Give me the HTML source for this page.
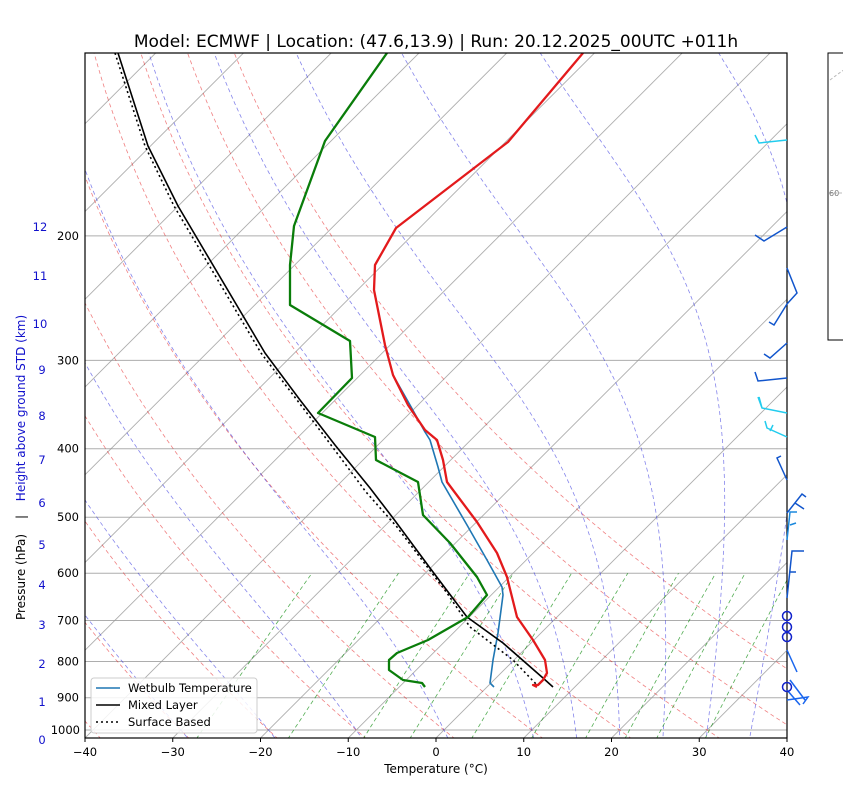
<!DOCTYPE html>
<html><head><meta charset="utf-8"><style>
body{margin:0;background:#fff;}
svg{display:block;font-family:"DejaVu Sans","Liberation Sans",sans-serif;}
</style></head><body>
<svg id="s" width="843" height="809" viewBox="0 0 843 809" xmlns="http://www.w3.org/2000/svg">
<defs><clipPath id="c"><rect x="85" y="53" width="702" height="685"/></clipPath></defs>
<rect width="843" height="809" fill="#fff"/>
<g id="bg" clip-path="url(#c)"></g>
<g clip-path="url(#c)" fill="none" stroke-linejoin="round">
<polyline stroke="#1f77b4" stroke-width="1.6" points="385,345 393,375 410,405 425,432 430,440 438,467 442,482 467,525 487,560 502,587 503,595 498,633 493,660 490,683 494,687"/>
<polyline stroke="#000" stroke-width="1.6" stroke-dasharray="2,3" points="115,53 145,146 174,206 261,353 297,400 331,445 366,492 397,527 447,593 470,627 513,660 537,685"/>
<polyline stroke="#000" stroke-width="1.6" points="118,53 148,146 178,206 265,353 300,400 335,445 370,488 393,518 430,568 467,617 503,643 543,678 553,687"/>
<polyline stroke="#e31a1c" stroke-width="2.3" points="583,53 508,142 396,228 375,265 374,290 378,310 385,345 393,375 408,405 425,430 437,440 443,460 447,482 477,522 497,553 507,577 517,617 533,640 545,660 547,673 543,680 538,685 533,685 537,687"/>
<polyline stroke="#0a7d0a" stroke-width="2.3" points="387,53 325,141 294,226 290,265 290,305 350,341 352,378 318,413 375,437 376,460 418,482 423,515 450,543 477,577 487,595 468,617 428,640 397,653 389,660 389,670 403,680 422,683 425,687"/>
</g>
<rect x="85" y="53" width="702" height="685" fill="none" stroke="#000" stroke-width="1.2"/>
<!-- wind barbs -->
<g fill="none" stroke-width="1.5">
<path d="M787,140 L759,143 L755,135" stroke="#22ccee"/>
<path d="M787,227 L764,241 L755,235" stroke="#1155cc"/>
<path d="M787,268 L797,293 L787,304 M787,304 L774,325 L769,322" stroke="#1155cc"/>
<path d="M787,343 L770,358 L764,354" stroke="#1155cc"/>
<path d="M787,378 L758,381 L755,372" stroke="#1155cc"/>
<path d="M787,413 L762,408 L758,397 M762,408 L759,397" stroke="#22ccee"/>
<path d="M787,437 L767,428 L765,421 M770,431 L773,425" stroke="#22ccee"/>
<path d="M787,480 L777,458 L781,456" stroke="#1155cc"/>
<path d="M787,513 L802,494 L806,497 M795,503 L804,509" stroke="#1155cc"/>
<path d="M787,540 L790,512 L797,512 M790,525 L796,523" stroke="#1a88dd"/>
<path d="M787,598 L792,551 L804,551 M790,572 L796,572" stroke="#1155cc"/>
<path d="M787,650 L797,672 M787,700 L808,697 L803,704 M787,690 L800,705 M790,680 L805,700" stroke="#1a66ee"/>
</g>
<g fill="none" stroke="#1122cc" stroke-width="1.5">
<circle cx="787" cy="616" r="4.5"/><circle cx="787" cy="627" r="4.5"/><circle cx="787" cy="637" r="4.5"/><circle cx="787" cy="687" r="4.5"/>
</g>
<!-- hodograph inset -->
<rect x="828" y="53" width="20" height="287" fill="#fff" stroke="#000" stroke-width="1"/>
<path d="M830,80 Q843,70 850,66 M829,193 L843,193" stroke="#bbb" stroke-dasharray="3,2" fill="none"/>
<text x="829" y="196" font-size="8" fill="#777">60</text>
<!-- title -->
<text x="436" y="47" font-size="17" text-anchor="middle">Model: ECMWF | Location: (47.6,13.9) | Run: 20.12.2025_00UTC +011h</text>
<g font-size="11.5" text-anchor="middle" id="xt"></g>
<text x="436" y="773" font-size="12" text-anchor="middle">Temperature (°C)</text>
<g font-size="11.5" text-anchor="end" id="yt"></g>
<g font-size="11.5" fill="#1111cc" text-anchor="middle">
<text x="42" y="744">0</text><text x="42" y="706">1</text><text x="42" y="668">2</text><text x="42" y="629">3</text><text x="42" y="589">4</text><text x="42" y="549">5</text><text x="42" y="507">6</text><text x="42" y="464">7</text><text x="42" y="420">8</text><text x="42" y="374">9</text><text x="40" y="328">10</text><text x="40" y="280">11</text><text x="40" y="231">12</text>
</g>
<text transform="translate(25,577) rotate(-90)" font-size="12" text-anchor="middle">Pressure (hPa)</text>
<text transform="translate(25,517) rotate(-90)" font-size="12" text-anchor="middle">|</text>
<text transform="translate(25,408) rotate(-90)" font-size="12" fill="#1111cc" text-anchor="middle">Height above ground STD (km)</text>
<rect x="91" y="678" width="166" height="55" rx="3" fill="#fff" fill-opacity="0.85" stroke="#ccc"/>
<line x1="96" y1="688" x2="120" y2="688" stroke="#1f77b4" stroke-width="1.6"/>
<line x1="96" y1="705" x2="120" y2="705" stroke="#000" stroke-width="1.6"/>
<line x1="96" y1="722" x2="120" y2="722" stroke="#000" stroke-width="1.6" stroke-dasharray="2,3"/>
<g font-size="11.5"><text x="128" y="692">Wetbulb Temperature</text><text x="128" y="709">Mixed Layer</text><text x="128" y="726">Surface Based</text></g>
</svg>
<script>
(function(){
var NS="http://www.w3.org/2000/svg";
function Y(p){return 730-307*Math.log(1000/p);}
function X(T,p){return 85+(T+40)*8.775+(738-Y(p));}
var bg=document.getElementById('bg');
function line(pts,col,w,dash,op){var e=document.createElementNS(NS,'polyline');e.setAttribute('points',pts.map(function(a){return a[0].toFixed(1)+','+a[1].toFixed(1)}).join(' '));e.setAttribute('fill','none');e.setAttribute('stroke',col);e.setAttribute('stroke-width',w);if(dash)e.setAttribute('stroke-dasharray',dash);e.setAttribute('stroke-opacity',op);bg.appendChild(e);}
for(var p=200;p<=1000;p+=100){line([[85,Y(p)],[787,Y(p)]],'#999',1,null,0.8);}
for(var T=-200;T<=40;T+=10){line([[X(T,1030),Y(1030)],[X(T,100),Y(100)]],'#999',0.9,null,0.8);}
var ps=[];for(var p=1030;p>=100;p-=5)ps.push(p);
for(var t=-40;t<=50;t+=10){var th=t+273.15;line(ps.map(function(p){return [X(th*Math.pow(p/1000,0.2857)-273.15,p),Y(p)]}),'#e31a1c',0.8,'4,3',0.55);}
function es(T){return 6.112*Math.exp(17.67*T/(T+243.5));}
function moist(T0){var T=T0+273.15,p=1000;var arr=[];
 function step(p,T,dp){var tc=T-273.15,e=es(tc),rs=0.622*e/(p-e);var Lv=2.5e6,Rd=287,Cp=1005;var dTdp=(1/p)*(Rd*T+Lv*rs)/(Cp+Lv*Lv*rs*0.622/(Rd*T*T));return T+dTdp*dp;}
 var Tb=T,pb=1000;while(pb<1030){Tb=step(pb,Tb,2);pb+=2;}
 arr.push([X(Tb-273.15,pb),Y(pb)]);
 while(p>100){T=step(p,T,-2);p-=2;if(p%10==0)arr.unshift([X(T-273.15,p),Y(p)]);}
 return arr;}
[-30,-20,-10,0,10,15,20,25,30,35].forEach(function(t){line(moist(t),'#3333dd',0.8,'4,3',0.6);});
[0.4,1,2,3,5,8,12,16,20,28].forEach(function(w){var pts=[];for(var p=1030;p>=600;p-=10){var e=w/1000*p/(0.622+w/1000);var l=Math.log(e/6.112);var Td=243.5*l/(17.67-l);pts.push([X(Td,p),Y(p)]);}line(pts,'#0a8a0a',0.8,'4,3',0.7);});
var xt=document.getElementById('xt');
for(var T=-40;T<=40;T+=10){var tx=document.createElementNS(NS,'text');tx.setAttribute('x',85+(T+40)*8.775);tx.setAttribute('y',756);tx.textContent=(T<0?'\u2212'+(-T):T);xt.appendChild(tx);
var tk=document.createElementNS(NS,'line');tk.setAttribute('x1',85+(T+40)*8.775);tk.setAttribute('x2',85+(T+40)*8.775);tk.setAttribute('y1',738);tk.setAttribute('y2',742);tk.setAttribute('stroke','#000');xt.appendChild(tk);}
var yt=document.getElementById('yt');
for(var p=200;p<=1000;p+=100){var tx=document.createElementNS(NS,'text');tx.setAttribute('x',p==1000?80:79);tx.setAttribute('y',Y(p)+4);tx.textContent=p;yt.appendChild(tx);}
})();
</script>
</body></html>
